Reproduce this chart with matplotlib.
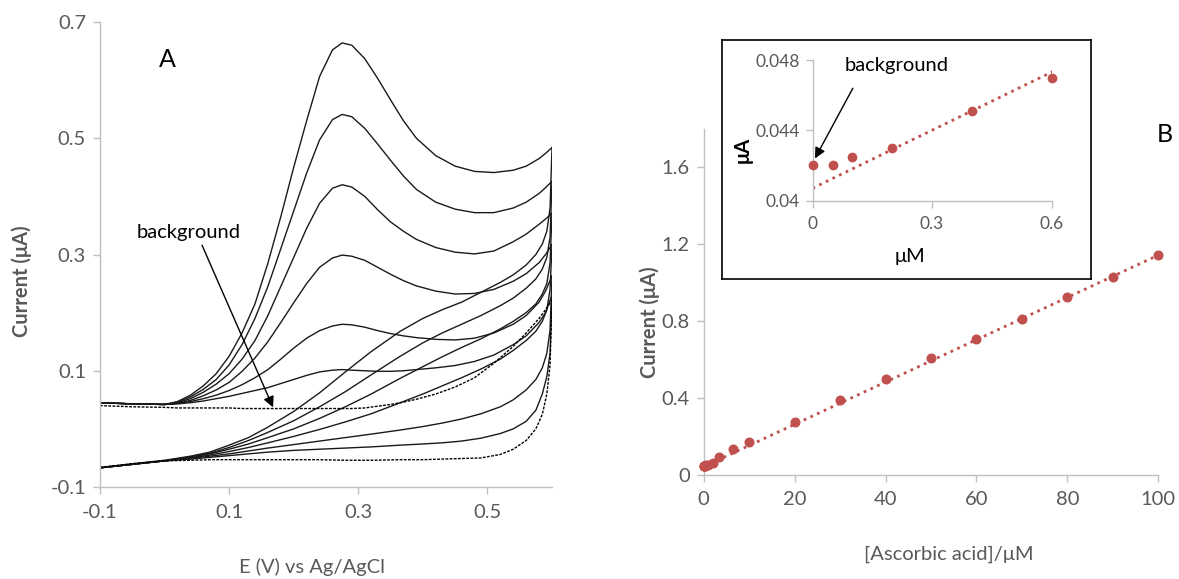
import matplotlib
matplotlib.use("Agg")
import matplotlib.pyplot as plt

plt.rcParams['font.family'] = ['Lato', 'DejaVu Sans']

# ---------------- Panel A data (cyclic voltammograms) ----------------
E_fwd = [-0.1, -0.05, 0.0, 0.02, 0.04, 0.06, 0.08, 0.1, 0.12, 0.14, 0.16, 0.18, 0.2, 0.22,
         0.24, 0.26, 0.275, 0.29, 0.31, 0.33, 0.35, 0.37, 0.39, 0.42, 0.45, 0.48, 0.51, 0.54,
         0.56, 0.58, 0.59, 0.6]
I_fwd1 = [0.045, 0.043, 0.042, 0.047, 0.058, 0.074, 0.095, 0.125, 0.165, 0.215, 0.285, 0.365,
          0.45, 0.53, 0.606, 0.652, 0.664, 0.66, 0.637, 0.603, 0.566, 0.53, 0.5, 0.47, 0.452,
          0.443, 0.441, 0.445, 0.452, 0.465, 0.474, 0.484]
I_fwd2 = [0.045, 0.043, 0.042, 0.046, 0.055, 0.068, 0.085, 0.11, 0.145, 0.19, 0.245, 0.31,
          0.375, 0.44, 0.497, 0.532, 0.541, 0.537, 0.517, 0.49, 0.462, 0.435, 0.412, 0.39, 0.378,
          0.372, 0.372, 0.38, 0.39, 0.405, 0.415, 0.426]
I_fwd3 = [0.045, 0.043, 0.042, 0.045, 0.052, 0.063, 0.077, 0.095, 0.12, 0.152, 0.195, 0.245,
          0.295, 0.345, 0.388, 0.414, 0.42, 0.416, 0.4, 0.377, 0.356, 0.34, 0.326, 0.312, 0.304,
          0.301, 0.306, 0.322, 0.335, 0.352, 0.361, 0.371]
I_fwd4 = [0.045, 0.043, 0.042, 0.044, 0.049, 0.057, 0.067, 0.08, 0.099, 0.122, 0.15, 0.183,
          0.217, 0.25, 0.278, 0.294, 0.299, 0.297, 0.29, 0.278, 0.266, 0.255, 0.246, 0.237, 0.232,
          0.233, 0.24, 0.254, 0.267, 0.286, 0.3, 0.317]
I_fwd5 = [0.045, 0.043, 0.042, 0.044, 0.047, 0.052, 0.058, 0.066, 0.076, 0.088, 0.102, 0.12,
          0.139, 0.156, 0.169, 0.177, 0.18, 0.179, 0.175, 0.169, 0.164, 0.16, 0.157, 0.154, 0.153,
          0.156, 0.165, 0.18, 0.195, 0.218, 0.237, 0.263]
I_fwd6 = [0.045, 0.043, 0.042, 0.043, 0.045, 0.048, 0.052, 0.056, 0.061, 0.066, 0.071, 0.078,
          0.085, 0.092, 0.098, 0.101, 0.102, 0.101, 0.1, 0.099, 0.099, 0.1, 0.102, 0.105, 0.109,
          0.116, 0.127, 0.145, 0.16, 0.183, 0.2, 0.23]
I_fwd_bg = [0.040, 0.038, 0.037, 0.036, 0.036, 0.036, 0.036, 0.036, 0.035, 0.035, 0.035, 0.035,
            0.035, 0.035, 0.035, 0.035, 0.035, 0.035, 0.036, 0.039, 0.042, 0.046, 0.051, 0.06,
            0.072, 0.088, 0.113, 0.142, 0.165, 0.19, 0.205, 0.222]

E_rev = [-0.1, -0.05, 0.0, 0.04, 0.07, 0.1, 0.13, 0.16, 0.2, 0.24, 0.28, 0.32, 0.365, 0.4,
         0.43, 0.46, 0.49, 0.52, 0.54, 0.56, 0.575, 0.585, 0.592, 0.597, 0.6]
I_rev1 = [-0.067, -0.06, -0.054, -0.047, -0.04, -0.028, -0.015, 0.003, 0.03, 0.062, 0.098, 0.133,
          0.168, 0.19, 0.205, 0.218, 0.235, 0.252, 0.265, 0.282, 0.3, 0.318, 0.34, 0.38, 0.484]
I_rev2 = [-0.067, -0.061, -0.055, -0.048, -0.042, -0.032, -0.02, -0.006, 0.014, 0.038, 0.064, 0.093,
          0.125, 0.148, 0.165, 0.18, 0.195, 0.212, 0.225, 0.242, 0.258, 0.275, 0.295, 0.33, 0.426]
I_rev3 = [-0.067, -0.061, -0.055, -0.049, -0.043, -0.035, -0.026, -0.015, 0.0, 0.018, 0.038, 0.06,
          0.087, 0.107, 0.124, 0.14, 0.155, 0.172, 0.185, 0.2, 0.215, 0.232, 0.25, 0.285, 0.371]
I_rev4 = [-0.067, -0.061, -0.055, -0.05, -0.045, -0.039, -0.032, -0.024, -0.013, -0.001, 0.012, 0.026,
          0.045, 0.06, 0.074, 0.088, 0.103, 0.12, 0.135, 0.152, 0.168, 0.185, 0.205, 0.24, 0.317]
I_rev5 = [-0.067, -0.061, -0.055, -0.051, -0.047, -0.043, -0.038, -0.033, -0.027, -0.021, -0.015, -0.009,
          -0.002, 0.004, 0.01, 0.017, 0.026, 0.038, 0.05, 0.067, 0.085, 0.105, 0.13, 0.17, 0.263]
I_rev6 = [-0.067, -0.061, -0.055, -0.052, -0.049, -0.046, -0.043, -0.04, -0.037, -0.035, -0.033, -0.031,
          -0.028, -0.026, -0.024, -0.021, -0.016, -0.008, 0.0, 0.013, 0.032, 0.06, 0.09, 0.13, 0.23]
I_rev_bg = [-0.066, -0.06, -0.055, -0.054, -0.053, -0.053, -0.053, -0.053, -0.053, -0.053, -0.054, -0.054,
            -0.053, -0.053, -0.052, -0.051, -0.05, -0.044, -0.035, -0.02, 0.0, 0.025, 0.06, 0.11, 0.222]

A_xticks = [-0.1, 0.1, 0.3, 0.5]
A_xlabels = ['-0.1', '0.1', '0.3', '0.5']
A_yticks = [-0.1, 0.1, 0.3, 0.5, 0.7]
A_ylabels = ['-0.1', '0.1', '0.3', '0.5', '0.7']

# ---------------- Panel B data (calibration) ----------------
conc = [0, 0.05, 0.1, 0.2, 0.4, 0.6, 1, 2, 3.3, 6.5, 10, 20, 30, 40, 50, 60, 70, 80, 90, 100]
current = [0.042, 0.042, 0.0425, 0.043, 0.045, 0.047, 0.05, 0.06, 0.093, 0.135, 0.17, 0.274,
           0.386, 0.497, 0.605, 0.706, 0.812, 0.923, 1.029, 1.143]
trend_conc = [0, 100]
trend_current = [0.0407, 1.143]
inset_conc = [0, 0.05, 0.1, 0.2, 0.4, 0.6]
inset_current = [0.042, 0.042, 0.0425, 0.043, 0.0451, 0.047]
B_xticks = [0, 20, 40, 60, 80, 100]
B_yticks = [0, 0.4, 0.8, 1.2, 1.6]
B_ylabels = ['0', '0.4', '0.8', '1.2', '1.6']
inset_xticks = [0, 0.3, 0.6]
inset_xlabels = ['0', '0.3', '0.6']
inset_yticks = [0.04, 0.044, 0.048]
inset_ylabels = ['0.04', '0.044', '0.048']

GRAY = '#595959'
SPINE = '#BFBFBF'
RED = '#C0504D'
W, H = 1179, 579

fig = plt.figure(figsize=(W / 100, H / 100), dpi=100)


def fx(px):
    return px / W


def fy(py):
    return 1 - py / H


def style_axes(ax, size):
    for s in ('top', 'right'):
        ax.spines[s].set_visible(False)
    for s in ('left', 'bottom'):
        ax.spines[s].set_color(SPINE)
        ax.spines[s].set_linewidth(1.0)
    ax.tick_params(axis='both', colors=SPINE, labelcolor=GRAY, labelsize=size,
                   direction='out', length=5, width=1.0)


# ---------------- Panel A ----------------
axA = fig.add_axes([fx(100), fy(487), fx(452), 465 / H])
style_axes(axA, 14.5)
axA.tick_params(axis='x', pad=7)
axA.tick_params(axis='y', pad=5)

fwd = [I_fwd1, I_fwd2, I_fwd3, I_fwd4, I_fwd5, I_fwd6]
rev = [I_rev1, I_rev2, I_rev3, I_rev4, I_rev5, I_rev6]
for f, r in zip(fwd, rev):
    axA.plot(E_fwd, f, color='#1a1a1a', lw=1.0, solid_joinstyle='round')
    axA.plot(E_rev, r, color='#1a1a1a', lw=1.0, solid_joinstyle='round')
axA.plot(E_fwd, I_fwd_bg, color='black', lw=1.0, ls=(0, (2, 1)))
axA.plot(E_rev, I_rev_bg, color='black', lw=1.0, ls=(0, (2, 1)))

axA.set_xlim(-0.1, 0.6)
axA.set_ylim(-0.1, 0.7)
axA.set_xticks(A_xticks)
axA.set_xticklabels(A_xlabels)
axA.set_yticks(A_yticks)
axA.set_yticklabels(A_ylabels)

axA.text(0.004, 0.635, 'A', fontsize=18, color='black', ha='center', va='center')
axA.text(0.037, 0.337, 'background', fontsize=14.5, color='black', ha='center', va='center')
axA.annotate('', xy=(0.168, 0.037), xytext=(0.058, 0.316),
             arrowprops=dict(arrowstyle='-|>', color='black', lw=1.0,
                             mutation_scale=16, shrinkA=0, shrinkB=0))

fig.text(fx(22), fy(281), 'Current (μA)', rotation=90, ha='center', va='center',
         fontsize=14.5, fontweight='bold', color=GRAY)
fig.text(fx(312), fy(567), 'E (V) vs Ag/AgCl', ha='center', va='center',
         fontsize=14.5, color=GRAY)

# ---------------- Panel B main ----------------
axB = fig.add_axes([fx(703.6), fy(474.5), fx(1158.4 - 703.6), (474.5 - 129) / H])
style_axes(axB, 14.5)
axB.tick_params(axis='x', pad=7)
axB.tick_params(axis='y', pad=5)
axB.plot(trend_conc, trend_current, color=RED, lw=2.0, ls=':')
axB.plot(conc, current, 'o', color=RED, ms=6.2, mec=RED, clip_on=False, zorder=3)
axB.set_xlim(0, 100)
axB.set_ylim(0, 1.8)
axB.set_xticks(B_xticks)
axB.set_yticks(B_yticks)
axB.set_yticklabels(B_ylabels)

fig.text(fx(1165), fy(134), 'B', fontsize=18, color='black', ha='center', va='center')
fig.text(fx(650), fy(322), 'Current (μA)', rotation=90, ha='center', va='center',
         fontsize=14.5, fontweight='bold', color=GRAY)
fig.text(fx(949), fy(554), '[Ascorbic acid]/μM', ha='center', va='center',
         fontsize=14.5, color=GRAY)

# ---------------- Inset ----------------
frame = fig.add_axes([fx(722), fy(279), fx(1091 - 722), (279 - 40) / H])
frame.set_xticks([])
frame.set_yticks([])
frame.set_facecolor('white')
for s in frame.spines.values():
    s.set_color('black')
    s.set_linewidth(1.2)

axI = fig.add_axes([fx(812.6), fy(200.5), fx(1051.5 - 812.6), (200.5 - 60.2) / H])
axI.patch.set_alpha(0)
style_axes(axI, 12.5)
axI.tick_params(axis='x', pad=6)
axI.tick_params(axis='y', pad=4)
axI.plot(trend_conc, trend_current, color=RED, lw=2.0, ls=':')
axI.plot(inset_conc, inset_current, 'o', color=RED, ms=6, mec=RED, clip_on=False, zorder=3)
axI.set_xlim(0, 0.6)
axI.set_ylim(0.04, 0.048)
axI.set_xticks(inset_xticks)
axI.set_xticklabels(inset_xlabels)
axI.set_yticks(inset_yticks)
axI.set_yticklabels(inset_ylabels)
axI.annotate('', xy=(0.006, 0.0424), xytext=(0.101, 0.0464),
             arrowprops=dict(arrowstyle='-|>', color='black', lw=1.0,
                             mutation_scale=16, shrinkA=0, shrinkB=0),
             annotation_clip=False)
fig.text(fx(897), fy(66), 'background', fontsize=14.5, color='black', ha='center', va='center')
fig.text(fx(743), fy(150), 'μA', rotation=90, ha='center', va='center',
         fontsize=14.5, fontweight='bold', color='black')
fig.text(fx(910), fy(257), 'μM', ha='center', va='center', fontsize=14.5, color='black')

fig.savefig('out.png', dpi=100)
